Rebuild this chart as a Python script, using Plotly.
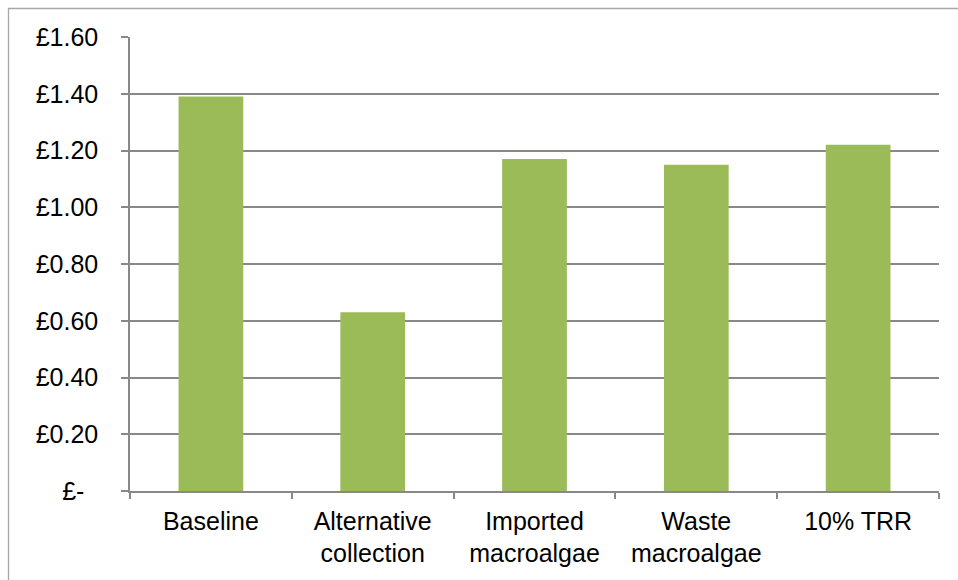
import plotly.graph_objects as go

# Cost per scenario (£)
categories = ["Baseline", "Alternative<br>collection", "Imported<br>macroalgae",
              "Waste<br>macroalgae", "10% TRR"]
values = [1.39, 0.63, 1.17, 1.15, 1.22]

tick_vals = [0, 0.2, 0.4, 0.6, 0.8, 1.0, 1.2, 1.4, 1.6]
# accounting-style zero label keeps its padding on the right
tick_text = ["£-\u00a0\u00a0", "£0.20", "£0.40", "£0.60", "£0.80", "£1.00", "£1.20",
             "£1.40", "£1.60"]

W, H = 958, 580
ML, MR, MT, MB = 130, 19, 37, 89
pw, ph = W - ML - MR, H - MT - MB

fig = go.Figure(go.Bar(x=categories, y=values, marker_color="#9BBB59",
                       marker_line_width=0))

font = dict(family="Liberation Sans, Arial, sans-serif", size=25, color="#000000")

fig.update_layout(
    width=W, height=H,
    margin=dict(l=ML, r=MR, t=MT, b=MB),
    paper_bgcolor="white", plot_bgcolor="white",
    bargap=0.6, showlegend=False, font=font,
)
fig.update_yaxes(
    range=[0, 1.6], tickvals=tick_vals, ticktext=tick_text,
    showgrid=True, gridcolor="#888888", gridwidth=1.5,
    zeroline=False, showline=True, linecolor="#888888", linewidth=1.5,
    ticks="outside", ticklen=7, tickcolor="#888888", tickwidth=1.5,
    ticklabelstandoff=18,
)
fig.update_xaxes(
    showline=True, linecolor="#888888", linewidth=1.5,
    ticks="outside", ticklen=6, tickcolor="#888888", tickwidth=1.5,
    tickson="boundaries", showgrid=False,
    ticklabelstandoff=7,
)

# Outer chart frame (only its left and top edges fall inside the page)
x0 = (8.5 - ML) / pw
y1 = 1 + (MT - 8.5) / ph
fig.add_shape(type="rect", xref="paper", yref="paper",
              x0=x0, x1=1.2, y0=-0.5, y1=y1,
              line=dict(color="#A6A6A6", width=1.3), fillcolor="rgba(0,0,0,0)",
              layer="below")

fig.write_html("out.html")
